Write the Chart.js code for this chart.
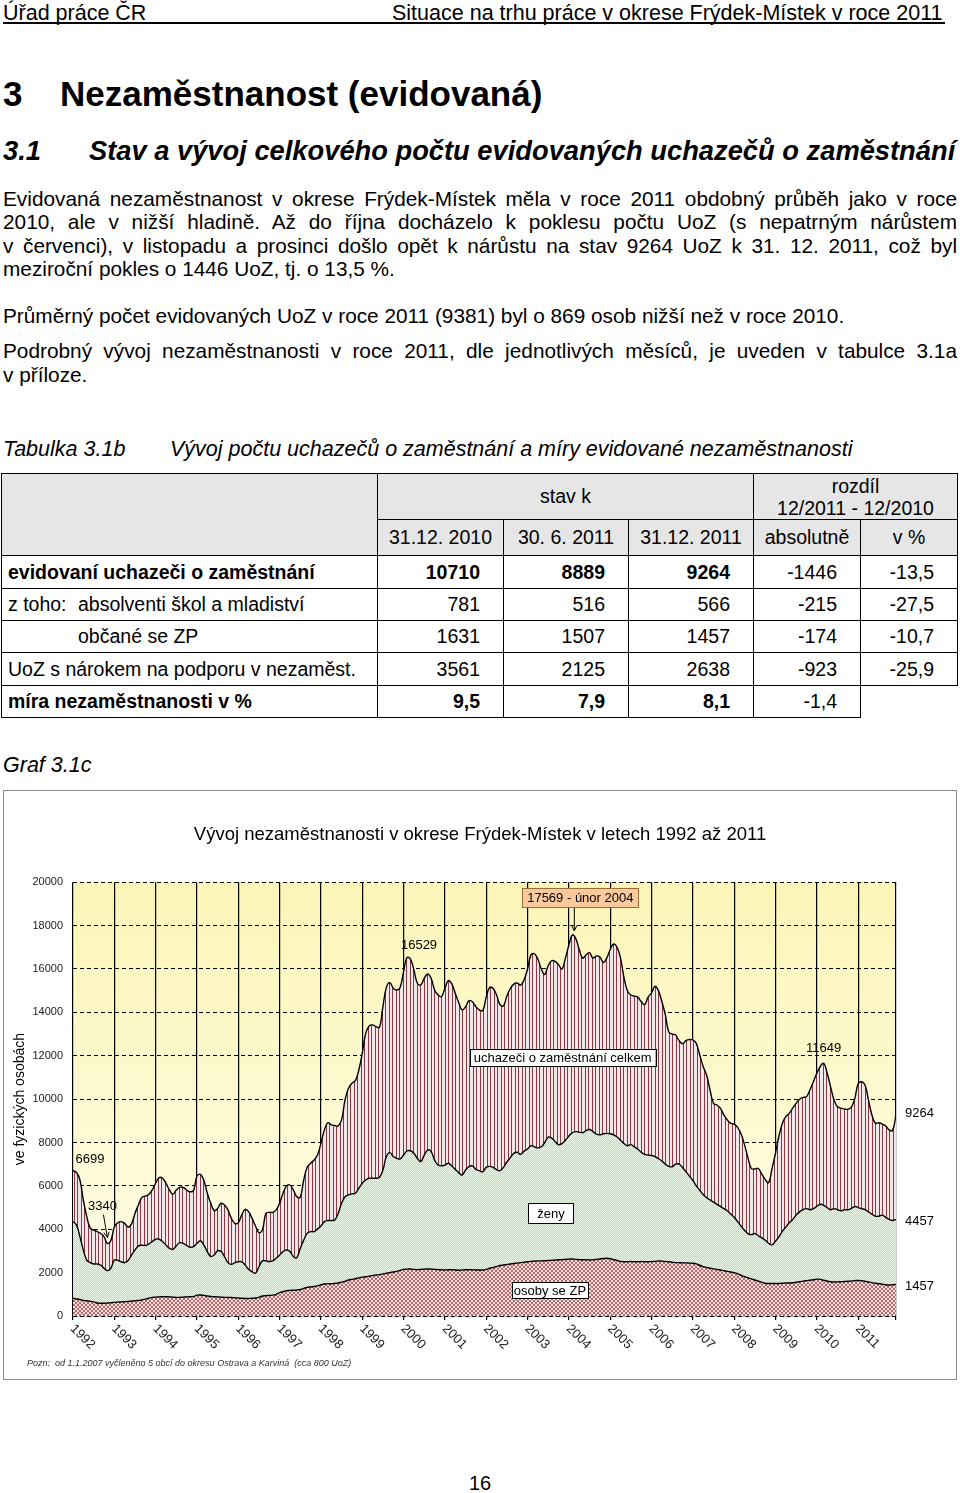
<!DOCTYPE html>
<html lang="cs">
<head>
<meta charset="utf-8">
<title>Nezaměstnanost (evidovaná)</title>
<script src="https://cdn.jsdelivr.net/npm/chart.js@4.4.1/dist/chart.umd.min.js"></script>
<style>
  html, body { margin: 0; padding: 0; background: #fff; }
  body {
    width: 960px; height: 1493px; position: relative; overflow: hidden;
    font-family: Arial, "Liberation Sans", Helvetica, sans-serif; color: #000;
  }
  .abs { position: absolute; white-space: nowrap; }
  .line { position: absolute; left: 3px; width: 954px; font-size: 20.8px; line-height: 23px; height: 23px; }
  .j { text-align: justify; text-align-last: justify; }
  table.t {
    position: absolute; left: 1px; top: 473px; border-collapse: collapse;
    table-layout: fixed; font-size: 19.5px;
  }
  table.t td { border: 1.5px solid #000; padding: 0; white-space: nowrap; }
  table.t .h { background: #e6e6e6; text-align: center; }
  table.t .l { text-align: left; padding-left: 6px; }
  table.t .n { text-align: right; padding-right: 23px; }
  table.t .b { font-weight: bold; }
  #box {
    position: absolute; left: 3px; top: 790px; width: 952px; height: 588px;
    border: 1px solid #8c8c8c;
  }
</style>
</head>
<body>

<div class="abs" style="left:3px; top:1px; font-size:21.5px; line-height:24px;">Úřad práce ČR</div>
<div class="abs" style="left:392px; top:1px; font-size:21.5px; line-height:24px;">Situace na trhu práce v okrese Frýdek-Místek v roce 2011</div>
<div class="abs" style="left:3px; top:22px; width:942px; height:2px; background:#000;"></div>

<div class="abs" style="left:3px; top:74px; font-size:35px; line-height:40px; font-weight:bold;">3</div>
<div class="abs" style="left:60px; top:74px; font-size:35px; line-height:40px; font-weight:bold;">Nezaměstnanost (evidovaná)</div>

<div class="abs" style="left:3px; top:135px; font-size:27.3px; line-height:32px; font-weight:bold; font-style:italic;">3.1</div>
<div class="abs" style="left:89px; top:135px; font-size:27.3px; line-height:32px; font-weight:bold; font-style:italic;">Stav a vývoj celkového počtu evidovaných uchazečů o zaměstnání</div>

<div class="line j" style="top:187px;">Evidovaná nezaměstnanost v okrese Frýdek-Místek měla v roce 2011 obdobný průběh jako v roce</div>
<div class="line j" style="top:210px;">2010, ale v nižší hladině. Až do října docházelo k poklesu počtu UoZ (s nepatrným nárůstem</div>
<div class="line j" style="top:234px;">v červenci), v listopadu a prosinci došlo opět k nárůstu na stav 9264 UoZ k 31. 12. 2011, což byl</div>
<div class="line" style="top:257px;">meziroční pokles o 1446 UoZ, tj. o 13,5 %.</div>

<div class="line" style="top:304px;">Průměrný počet evidovaných UoZ v roce 2011 (9381) byl o 869 osob nižší než v roce 2010.</div>

<div class="line j" style="top:339px;">Podrobný vývoj nezaměstnanosti v roce 2011, dle jednotlivých měsíců, je uveden v tabulce 3.1a</div>
<div class="line" style="top:363px;">v příloze.</div>

<div class="abs" style="left:3px; top:437px; font-size:21.5px; line-height:24px; font-style:italic;">Tabulka 3.1b</div>
<div class="abs" style="left:170px; top:437px; font-size:21.5px; line-height:24px; font-style:italic;">Vývoj počtu uchazečů o zaměstnání a míry evidované nezaměstnanosti</div>

<table class="t">
  <colgroup>
    <col style="width:376px"><col style="width:126px"><col style="width:125px">
    <col style="width:125px"><col style="width:107px"><col style="width:97px">
  </colgroup>
  <tr style="height:46px">
    <td class="h" rowspan="2"></td>
    <td class="h" colspan="3">stav k</td>
    <td class="h" colspan="2" style="line-height:22px;">rozdíl<br>12/2011 - 12/2010</td>
  </tr>
  <tr style="height:36px">
    <td class="h">31.12. 2010</td><td class="h">30. 6. 2011</td><td class="h">31.12. 2011</td>
    <td class="h">absolutně</td><td class="h">v %</td>
  </tr>
  <tr style="height:33px">
    <td class="l b">evidovaní uchazeči o zaměstnání</td>
    <td class="n b">10710</td><td class="n b">8889</td><td class="n b">9264</td>
    <td class="n">-1446</td><td class="n">-13,5</td>
  </tr>
  <tr style="height:32px">
    <td class="l"><span style="display:inline-block; width:70px;">z toho:</span>absolventi škol a mladiství</td>
    <td class="n">781</td><td class="n">516</td><td class="n">566</td>
    <td class="n">-215</td><td class="n">-27,5</td>
  </tr>
  <tr style="height:32px">
    <td class="l" style="padding-left:76px;">občané se ZP</td>
    <td class="n">1631</td><td class="n">1507</td><td class="n">1457</td>
    <td class="n">-174</td><td class="n">-10,7</td>
  </tr>
  <tr style="height:33px">
    <td class="l">UoZ s nárokem na podporu v nezaměst.</td>
    <td class="n">3561</td><td class="n">2125</td><td class="n">2638</td>
    <td class="n">-923</td><td class="n">-25,9</td>
  </tr>
  <tr style="height:32px">
    <td class="l b">míra nezaměstnanosti v %</td>
    <td class="n b">9,5</td><td class="n b">7,9</td><td class="n b">8,1</td>
    <td class="n">-1,4</td><td style="border:none;"></td>
  </tr>
</table>

<div class="abs" style="left:3px; top:753px; font-size:21.5px; line-height:24px; font-style:italic;">Graf 3.1c</div>

<div id="box"><canvas id="graf" width="952" height="588"></canvas></div>

<div class="abs" style="left:0; width:960px; text-align:center; top:1471px; font-size:20px; line-height:24px;">16</div>

<script>
// Roky na ose x (leden kazdeho roku)
const roky = ['1992', '1993', '1994', '1995', '1996', '1997', '1998', '1999', '2000', '2001',
              '2002', '2003', '2004', '2005', '2006', '2007', '2008', '2009', '2010', '2011'];

// Uchazeci o zamestnani celkem - mesicne 1/1992 az 12/2011
const celkem = [
    6699, 6620, 6280, 5350, 4580, 4050, 3960, 3890, 3810, 3660, 3340, 3480,       // 1992
    4100, 4300, 4350, 4270, 4100, 4250, 4730, 5120, 5470, 5530, 5600, 5810,       // 1993
    6120, 6380, 6350, 6120, 5810, 5610, 5810, 5930, 5930, 5810, 5730, 5780,       // 1994
    6450, 6530, 6250, 5660, 5200, 4860, 4960, 5200, 5120, 4890, 4500, 4270,       // 1995
    4300, 4660, 4920, 4810, 4500, 4150, 3840, 3960, 4730, 4780, 4780, 4890,       // 1996
    5200, 5660, 6000, 6040, 5810, 5500, 5470, 6270, 6860, 7040, 7190, 7420,       // 1997
    7960, 8580, 8910, 8810, 8780, 8760, 9040, 9960, 10500, 10730, 10850, 11340,   // 1998
    12110, 13030, 13370, 13420, 13340, 13310, 14260, 15150, 15370, 15110, 15030, 15150, // 1999
    15880, 16529, 16450, 15950, 15340, 15260, 15570, 15770, 15570, 15030, 14800, 14720, // 2000
    15110, 15460, 15310, 14880, 14450, 14110, 14260, 14540, 14490, 14260, 14110, 14080, // 2001
    14700, 15150, 15100, 14800, 14350, 14300, 14750, 15100, 15300, 15350, 15250, 15500, // 2002
    16000, 16650, 16700, 16450, 16000, 15750, 16150, 16380, 16350, 16200, 16000, 16500, // 2003
    17100, 17569, 17400, 16900, 16500, 16650, 16750, 16500, 16600, 16550, 16300, 16500, // 2004
    16900, 17150, 17000, 16500, 15600, 15000, 14800, 14750, 14700, 14500, 14350, 14700, // 2005
    14900, 15200, 15000, 14500, 13900, 13100, 13000, 12950, 12700, 12550, 12700, 12750, // 2006
    12730, 12570, 12030, 11500, 11100, 10420, 9800, 9730, 9580, 9270, 9040, 8880,  // 2007
    8850, 8700, 8400, 7900, 7300, 6800, 6780, 6800, 6550, 6300, 6150, 6800,       // 2008
    7500, 8300, 8880, 9190, 9340, 9580, 9800, 9990, 10080, 10110, 10420, 10800,   // 2009
    11190, 11500, 11649, 11200, 10570, 9960, 9650, 9580, 9540, 9530, 9620, 10000, // 2010
    10710, 10800, 10650, 9960, 9270, 8889, 8910, 8850, 8760, 8580, 8550, 9264     // 2011
];

// Zeny
const zeny = [
    4350, 4200, 3660, 3040, 2580, 2460, 2400, 2400, 2350, 2200, 2090, 2200,   // 1992
    2580, 2570, 2500, 2460, 2560, 2810, 3040, 3230, 3260, 3250, 3320, 3430,   // 1993
    3540, 3540, 3430, 3270, 3120, 3070, 3240, 3380, 3350, 3250, 3170, 3200,   // 1994
    3350, 3470, 3270, 2970, 2740, 2810, 3010, 2970, 2740, 2460, 2380, 2460,   // 1995
    2500, 2500, 2350, 2150, 2040, 1970, 2270, 2540, 2540, 2510, 2540, 2660,   // 1996
    2810, 2970, 3040, 2970, 2740, 2690, 3120, 3500, 3810, 3890, 3890, 4010,   // 1997
    4150, 4350, 4400, 4400, 4430, 4730, 5200, 5500, 5580, 5630, 5660, 5890,   // 1998
    6120, 6270, 6350, 6350, 6350, 6390, 6730, 7350, 7530, 7350, 7270, 7240,   // 1999
    7420, 7610, 7620, 7500, 7270, 7120, 7420, 7650, 7580, 7190, 6960, 6920,   // 2000
    6960, 7040, 6920, 6760, 6610, 6500, 6730, 6890, 6920, 6760, 6700, 6650,   // 2001
    6850, 6900, 6850, 6750, 6700, 6850, 7100, 7300, 7500, 7550, 7450, 7600,   // 2002
    7700, 7850, 7800, 7750, 7800, 8000, 8250, 8200, 8050, 7900, 7950, 8100,   // 2003
    8300, 8450, 8500, 8480, 8450, 8550, 8600, 8500, 8380, 8350, 8400, 8420,   // 2004
    8400, 8350, 8250, 8100, 7950, 7850, 7900, 7800, 7700, 7550, 7450, 7420,   // 2005
    7400, 7350, 7250, 7150, 7000, 6900, 6880, 7000, 7000, 6850, 6650, 6450,   // 2006
    6250, 6000, 5800, 5600, 5450, 5350, 5250, 5150, 5050, 4950, 4850, 4700,   // 2007
    4550, 4350, 4150, 3950, 3800, 3750, 3800, 3700, 3600, 3500, 3350, 3280,   // 2008
    3450, 3650, 3900, 4100, 4300, 4450, 4650, 4800, 4900, 4950, 4900, 4950,   // 2009
    5050, 5150, 5100, 5000, 4900, 4950, 4900, 4850, 4900, 4900, 4950, 5050,   // 2010
    5000, 4950, 4900, 4800, 4700, 4600, 4600, 4650, 4550, 4450, 4400, 4457    // 2011
];

// Osoby se zdravotnim postizenim
const zp = [
    815, 790, 760, 720, 700, 680, 650, 600, 590, 590, 600, 610,               // 1992
    630, 640, 650, 660, 670, 690, 700, 720, 740, 780, 820, 860,               // 1993
    870, 880, 890, 890, 880, 870, 860, 860, 870, 880, 890, 900,               // 1994
    960, 970, 950, 920, 900, 890, 880, 870, 860, 860, 850, 840,               // 1995
    830, 815, 810, 810, 815, 830, 860, 920, 940, 950, 960, 990,               // 1996
    1080, 1120, 1170, 1180, 1190, 1200, 1220, 1270, 1320, 1340, 1360, 1390,   // 1997
    1440, 1475, 1480, 1490, 1500, 1520, 1560, 1600, 1660, 1690, 1720, 1760,   // 1998
    1790, 1810, 1840, 1870, 1890, 1910, 1940, 1970, 2000, 2030, 2060, 2100,   // 1999
    2150, 2160, 2170, 2150, 2140, 2150, 2160, 2170, 2160, 2150, 2140, 2130,   // 2000
    2120, 2130, 2140, 2120, 2110, 2120, 2130, 2140, 2130, 2120, 2120, 2120,   // 2001
    2150, 2200, 2240, 2280, 2330, 2350, 2380, 2400, 2420, 2440, 2460, 2480,   // 2002
    2500, 2520, 2530, 2540, 2540, 2550, 2560, 2570, 2580, 2590, 2600, 2610,   // 2003
    2620, 2630, 2610, 2600, 2590, 2600, 2580, 2590, 2610, 2630, 2650, 2660,   // 2004
    2640, 2600, 2560, 2520, 2500, 2500, 2510, 2500, 2500, 2510, 2500, 2500,   // 2005
    2510, 2520, 2540, 2530, 2510, 2500, 2480, 2460, 2460, 2450, 2450, 2440,   // 2006
    2430, 2400, 2340, 2280, 2240, 2200, 2170, 2150, 2120, 2090, 2060, 2030,   // 2007
    2000, 1950, 1880, 1810, 1760, 1710, 1660, 1610, 1560, 1510, 1500, 1500,   // 2008
    1500, 1500, 1510, 1520, 1520, 1530, 1560, 1580, 1610, 1630, 1650, 1670,   // 2009
    1700, 1690, 1650, 1610, 1580, 1570, 1575, 1580, 1590, 1600, 1615, 1631,   // 2010
    1640, 1630, 1600, 1570, 1540, 1507, 1490, 1470, 1440, 1430, 1440, 1457    // 2011
];

const PISMO = 'Arial, "Liberation Sans", sans-serif';
const posledni = celkem.length - 1;

// Popisky hodnot u krivek (posun v px od bodu)
const popisky = [
    { text: '6699', rada: celkem, i: 0, dx: 17, dy: -11 },
    { text: '3340', rada: celkem, i: 10, dx: -5, dy: -37, sipka: [-4, -29, 0, -6] },
    { text: '16529', rada: celkem, i: 97, dx: 12, dy: -12 },
    { text: '11649', rada: celkem, i: 218, dx: 0, dy: -15 }
];
// Popisky na pravem okraji (posledni mesic)
const koncove = [
    { text: '9264', rada: celkem, dy: -2 },
    { text: '4457', rada: zeny, dy: 2 },
    { text: '1457', rada: zp, dy: 2 }
];
// Ramecky s nazvy rad (stred v souradnicich dat)
const ramecky = [
    { text: '17569 - únor 2004', i: 145, v: 17569, dx: 8, dy: -37.5, pad: 5, vyska: 19,
      vypln: '#fbca9c', okraj: '#9a6a3a', sipka: [2, -27, 2, -4] },
    { text: 'uchazeči o zaměstnání celkem', i: 142.2, v: 11920, pad: 4, vyska: 17, vypln: '#fff', okraj: '#000' },
    { text: 'ženy', i: 138.8, v: 4750, pad: 9, vyska: 20, vypln: '#fff', okraj: '#000' },
    { text: 'osoby se ZP', i: 138.5, v: 1200, pad: 2, vyska: 16, vypln: '#fff', okraj: '#000' }
];

const platno = document.getElementById('graf');
const ctx = platno.getContext('2d');

// Vzorky vyplni
function vzor(w, h, kresli) {
    const c = document.createElement('canvas');
    c.width = w; c.height = h;
    kresli(c.getContext('2d'));
    return ctx.createPattern(c, 'repeat');
}
const pruhy = vzor(7, 1, g => {
    g.fillStyle = '#f2e6e9'; g.fillRect(0, 0, 7, 1);
    g.fillStyle = '#843a40'; g.fillRect(0, 0, 1, 1); g.fillRect(3, 0, 1, 1);
});
const zelena = vzor(2, 2, g => {
    g.fillStyle = '#e9f6e6'; g.fillRect(0, 0, 2, 2);
    g.fillStyle = '#b9dfb3'; g.fillRect(0, 0, 1, 1); g.fillRect(1, 1, 1, 1);
});
const mrizka = vzor(4, 4, g => {
    g.fillStyle = '#f3dede'; g.fillRect(0, 0, 4, 4);
    g.fillStyle = '#b86a6a';
    for (let k = 0; k < 4; k++) { g.fillRect(k, k, 1, 1); g.fillRect(k, 3 - k, 1, 1); }
});

const body = rada => rada.map((v, i) => ({ x: i, y: v }));

function sipka(c, x1, y1, x2, y2) {
    c.beginPath(); c.moveTo(x1, y1); c.lineTo(x2, y2); c.stroke();
    const a = Math.atan2(y2 - y1, x2 - x1);
    c.beginPath();
    c.moveTo(x2 - 6 * Math.cos(a - 0.45), y2 - 6 * Math.sin(a - 0.45));
    c.lineTo(x2, y2);
    c.lineTo(x2 - 6 * Math.cos(a + 0.45), y2 - 6 * Math.sin(a + 0.45));
    c.stroke();
}

const pozadi = {
    id: 'pozadi',
    beforeDraw(chart) {
        const { ctx: c, chartArea: a } = chart;
        const g = c.createLinearGradient(0, a.top, 0, a.bottom);
        g.addColorStop(0, '#fcf5b8');
        g.addColorStop(1, '#fffde8');
        c.save(); c.fillStyle = g; c.fillRect(a.left, a.top, a.right - a.left, a.bottom - a.top); c.restore();
    }
};

const popisy = {
    id: 'popisy',
    afterDraw(chart) {
        const c = chart.ctx, x = chart.scales.x, y = chart.scales.y, a = chart.chartArea;
        c.save();
        c.fillStyle = '#000'; c.strokeStyle = '#000'; c.lineWidth = 1;
        c.font = '13px ' + PISMO;
        c.textAlign = 'center'; c.textBaseline = 'middle';
        popisky.forEach(p => {
            const px = x.getPixelForValue(p.i), py = y.getPixelForValue(p.rada[p.i]);
            c.fillText(p.text, px + p.dx, py + p.dy);
            if (p.sipka) sipka(c, px + p.sipka[0], py + p.sipka[1], px + p.sipka[2], py + p.sipka[3]);
        });
        c.textAlign = 'left';
        koncove.forEach(p => {
            c.fillText(p.text, a.right + 9, y.getPixelForValue(p.rada[posledni]) + p.dy);
        });
        c.textAlign = 'center';
        ramecky.forEach(r => {
            const px = x.getPixelForValue(r.i), py = y.getPixelForValue(r.v);
            const cx = px + (r.dx || 0), cy = py + (r.dy || 0);
            const w = c.measureText(r.text).width + 2 * r.pad;
            c.fillStyle = r.vypln; c.strokeStyle = r.okraj;
            c.fillRect(cx - w / 2, cy - r.vyska / 2, w, r.vyska);
            c.strokeRect(Math.round(cx - w / 2) + 0.5, Math.round(cy - r.vyska / 2) + 0.5, Math.round(w), r.vyska);
            c.fillStyle = '#000';
            c.fillText(r.text, cx, cy + 1);
            if (r.sipka) { c.strokeStyle = '#000'; sipka(c, px + r.sipka[0], py + r.sipka[1], px + r.sipka[2], py + r.sipka[3]); }
        });
        // roky sikmo dolu
        c.font = '13px ' + PISMO;
        c.fillStyle = '#222';
        c.textAlign = 'left'; c.textBaseline = 'top';
        x.ticks.forEach(t => {
            if (t.value % 12 !== 0 || t.value > posledni) return;
            c.save();
            c.translate(x.getPixelForValue(t.value) + 4, a.bottom + 6);
            c.rotate(Math.PI / 4);
            c.fillText(roky[t.value / 12], 0, 0);
            c.restore();
        });
        // poznamka
        c.font = 'italic 9px ' + PISMO;
        c.fillStyle = '#333';
        c.textBaseline = 'middle';
        c.fillText('Pozn:  od 1.1.2007 vyčleněno 5 obcí do okresu Ostrava a Karviná  (cca 800 UoZ)', 23, 572);
        c.restore();
    }
};

const graf = new Chart(ctx, {
    type: 'line',
    data: {
        datasets: [
            { label: 'uchazeči o zaměstnání celkem', data: body(celkem), fill: '+1', backgroundColor: pruhy,
              borderColor: '#000', borderWidth: 1.4, pointRadius: 0, tension: 0.4 },
            { label: 'ženy', data: body(zeny), fill: '+1', backgroundColor: zelena,
              borderColor: '#000', borderWidth: 1.4, pointRadius: 0, tension: 0.4 },
            { label: 'osoby se ZP', data: body(zp), fill: 'origin', backgroundColor: mrizka,
              borderColor: '#000', borderWidth: 1.4, pointRadius: 0, tension: 0.4 }
        ]
    },
    options: {
        responsive: false,
        animation: false,
        devicePixelRatio: 1,
        layout: { padding: { left: 0, right: 0, top: 0, bottom: 59 } },
        plugins: {
            legend: { display: false },
            tooltip: { enabled: false },
            filler: { drawTime: 'beforeDatasetsDraw' },
            title: {
                display: true,
                text: 'Vývoj nezaměstnanosti v okrese Frýdek-Místek v letech 1992 až 2011',
                color: '#000',
                font: { family: PISMO, size: 18.5, weight: 'normal' },
                padding: { top: 33, bottom: 36 }
            }
        },
        scales: {
            x: {
                type: 'linear', min: 0, max: posledni,
                afterBuildTicks: osa => {
                    osa.ticks = roky.map((r, k) => ({ value: k * 12 })).concat([{ value: posledni }]);
                },
                afterFit: osa => { osa.height = 4; },
                ticks: { display: false },
                grid: { color: '#000', lineWidth: 1.2, drawTicks: true, tickLength: 4 },
                border: { display: true, color: '#000', width: 1.2 }
            },
            y: {
                min: 0, max: 20000,
                afterFit: osa => { osa.width = 69; },
                ticks: { stepSize: 2000, color: '#222', padding: 10, font: { family: PISMO, size: 11 },
                         callback: v => String(v) },
                grid: { color: '#000', lineWidth: 1, drawTicks: false },
                border: { display: false, dash: [4, 3] },
                title: {
                    display: true, text: 've fyzických osobách', color: '#000',
                    font: { family: PISMO, size: 14 }, padding: { top: 8, bottom: 0 }
                }
            },
            // prazdny pravy okraj pro koncove popisky
            okraj: {
                type: 'linear', position: 'right', display: true,
                afterFit: osa => { osa.width = 60; },
                ticks: { display: false },
                grid: { display: false, drawOnChartArea: false },
                border: { display: false }
            }
        }
    },
    plugins: [pozadi, popisy]
});
</script>
</body>
</html>
